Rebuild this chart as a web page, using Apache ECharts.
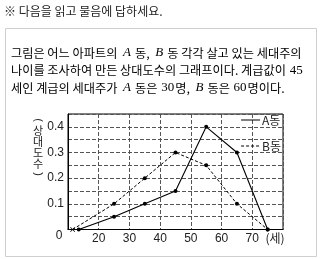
<!DOCTYPE html>
<html><head><meta charset="utf-8">
<script src="https://cdn.jsdelivr.net/npm/echarts@6/dist/echarts.min.js"></script>
<style>html,body{margin:0;padding:0;background:#fff}#c{width:320px;height:259px}</style>
</head><body><div id="c"></div>
<script>
// Data
const xTickLabels = [20, 30, 40, 50, 60, 70];
const yTickLabels = [0.1, 0.2, 0.3, 0.4];
const seriesNames = ['A동', 'B동'];
const aX = [13.5, 25, 35, 45, 55, 65, 75];
const aY = [0, 0.05, 0.1, 0.15, 0.4, 0.3, 0];
const bX = [11.5, 25, 35, 45, 55, 65, 75];
const bY = [0, 0.1, 0.2, 0.3, 0.25, 0.1, 0];

const KR = '"Noto Sans CJK KR", "Noto Sans", sans-serif';
const NUM = '"Liberation Sans", Arial, sans-serif';
const crossPath = 'path://M0,1L1,0L5,4L9,0L10,1L6,5L10,9L9,10L5,6L1,10L0,9L4,5Z';

const aData = aX.map((x, i) => [x, aY[i]]);
const bData = bX.map((x, i) => i === 0 ? {value: [x, bY[i]], symbol: crossPath, symbolSize: 5} : [x, bY[i]]);

const chart = echarts.init(document.getElementById('c'), null, {renderer: 'canvas'});
const rich = {
  k: {fontFamily: KR, fontSize: 12.2, color: '#222'},
  m: {fontFamily: '"Liberation Serif", serif', fontStyle: 'italic', fontSize: 13, color: '#222', padding: [0, 4, 0, 3]},
  n: {fontFamily: '"Liberation Serif", serif', fontSize: 13, color: '#222', padding: [0, 1, 0, 1]}
};
chart.setOption({
  animation: false,
  backgroundColor: '#fff',
  grid: {left: 68, top: 114, width: 215, height: 115.5, show: true, borderColor: '#000', borderWidth: 1, containLabel: false},
  xAxis: {
    type: 'value', min: 10, max: 80, interval: 10,
    axisLine: {show: true, lineStyle: {color: '#000', width: 1}},
    axisTick: {show: false},
    splitLine: {show: true, lineStyle: {color: '#555', type: [4, 2], width: 1}},
    axisLabel: {
      margin: 3, color: '#222', fontFamily: NUM, fontSize: 12,
      formatter: v => xTickLabels.includes(v) ? String(v) : ''
    }
  },
  yAxis: {
    type: 'value', min: 0, max: 0.45, interval: 0.05,
    axisLine: {show: true, lineStyle: {color: '#000', width: 1}},
    axisTick: {show: false},
    splitLine: {show: true, lineStyle: {color: '#555', type: [4, 2], width: 1}},
    axisLabel: {
      margin: 4, color: '#222', fontFamily: NUM, fontSize: 12,
      formatter: v => {
        const r = Math.round(v * 10) / 10;
        return (Math.abs(v - r) < 1e-6 && yTickLabels.includes(r)) ? r.toFixed(1) : '';
      }
    }
  },
  legend: {
    orient: 'vertical', right: 39, top: 114, padding: 0, itemGap: 14,
    itemWidth: 19, itemHeight: 12,
    itemStyle: {opacity: 0},
    lineStyle: {width: 1},
    textStyle: {fontFamily: KR, fontSize: 12, color: '#222', padding: [0, 0, 0, -3]},
    data: seriesNames
  },
  series: [
    {name: seriesNames[0], type: 'line', data: aData, symbol: 'circle', symbolSize: 4,
     lineStyle: {color: '#000', width: 1.1}, itemStyle: {color: '#000'}},
    {name: seriesNames[1], type: 'line', data: bData, symbol: 'circle', symbolSize: 4,
     lineStyle: {color: '#000', width: 1, type: [3, 2]}, itemStyle: {color: '#000'}}
  ],
  graphic: [
    {type: 'text', left: 4, top: 5, style: {text: '※ 다음을 읽고 물음에 답하세요.', font: '12px ' + KR, fill: '#222'}},
    {type: 'rect', shape: {x: 5.5, y: 28.5, width: 311, height: 228}, style: {fill: 'none', stroke: '#cfcfcf', lineWidth: 1}},
    {type: 'text', x: 11, y: 53, style: {text: '{k|그림은 어느 아파트의 }{m|A}{k|동, }{m|B}{k|동 각각 살고 있는 세대주의}', rich: rich, verticalAlign: 'middle'}},
    {type: 'text', x: 11, y: 70.5, style: {text: '{k|나이를 조사하여 만든 상대도수의 그래프이다. 계급값이 }{n|45}', rich: rich, verticalAlign: 'middle'}},
    {type: 'text', x: 11, y: 88, style: {text: '{k|세인 계급의 세대주가 }{m|A}{k|동은 }{n|30}{k|명, }{m|B}{k|동은 }{n|60}{k|명이다.}', rich: rich, verticalAlign: 'middle'}},
    {type: 'text', x: 38, y: 120, rotation: -Math.PI / 2, style: {text: '(', font: '11px ' + NUM, fill: '#222', align: 'center', verticalAlign: 'middle'}},
    {type: 'text', x: 38, y: 147.5, style: {text: '상\n대\n도\n수', font: '11px ' + KR, fill: '#222', align: 'center', verticalAlign: 'middle', lineHeight: 11}},
    {type: 'text', x: 38, y: 174, rotation: -Math.PI / 2, style: {text: ')', font: '11px ' + NUM, fill: '#222', align: 'center', verticalAlign: 'middle'}},
    {type: 'text', x: 59, y: 236, style: {text: '0', font: '12px ' + NUM, fill: '#222', align: 'center', verticalAlign: 'middle'}},
    {type: 'text', x: 275, y: 238, style: {text: '(세)', font: '12px ' + KR, fill: '#222', align: 'center', verticalAlign: 'middle'}}
  ]
});
</script></body></html>
